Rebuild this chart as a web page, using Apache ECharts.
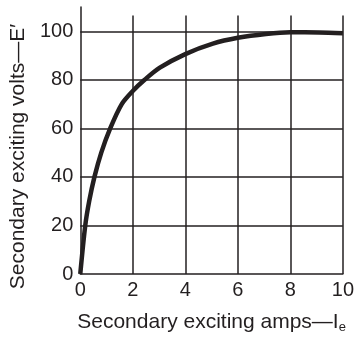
<!DOCTYPE html>
<html><head><meta charset="utf-8">
<script src="https://cdn.jsdelivr.net/npm/echarts@6/dist/echarts.min.js"></script>
<style>html,body{margin:0;padding:0;background:#fff}#c{width:357px;height:339px}</style>
</head><body><div id="c"></div>
<script>
// Data
const amps = [0, 0.19, 0.34, 0.54, 0.8, 1.14, 1.58, 2.0, 2.45, 3.03, 4.0, 5.05, 6.0, 7.07, 8.0, 9.09, 10.0];
const volts = [0, 20, 30, 40, 50, 60, 70, 75.4, 80, 85, 90.6, 94.9, 97.3, 98.9, 99.6, 99.5, 99.2];
const xTicks = [0, 2, 4, 6, 8, 10];
const yTicks = [0, 20, 40, 60, 80, 100];
const verticalGridTop = 106.5;

const ink = '#231f20';
const font = 'Liberation Sans, Arial, Helvetica, sans-serif';
const chart = echarts.init(document.getElementById('c'), null, {renderer: 'canvas'});
const vLines = xTicks.slice(1).map(x => [{coord: [x, 0]}, {coord: [x, verticalGridTop]}]);
chart.setOption({
  animation: false,
  backgroundColor: '#fff',
  grid: {left: 80, right: 13, top: 7, bottom: 55, containLabel: false},
  xAxis: {
    type: 'value', min: 0, max: 10, interval: 2,
    axisLine: {show: true, onZero: false, lineStyle: {color: ink, width: 1.5}},
    axisTick: {show: false},
    splitLine: {show: false},
    axisLabel: {color: ink, fontSize: 20, fontFamily: font, margin: 6,
      formatter: v => xTicks.includes(v) ? String(v) : ''},
    name: '{a|Secondary exciting amps—I}{s|e}',
    nameLocation: 'middle', nameGap: 37,
    nameTextStyle: {rich: {
      a: {color: ink, fontSize: 21, fontFamily: font},
      s: {color: ink, fontSize: 13, fontFamily: font, padding: [10, 0, 0, 0]}
    }}
  },
  yAxis: {
    type: 'value', min: 0, max: 110, interval: 20,
    axisLine: {show: true, onZero: false, lineStyle: {color: ink, width: 1.5}},
    axisTick: {show: false},
    splitLine: {show: true, showMaxLine: false, showMinLine: false, lineStyle: {color: ink, width: 1.5}},
    axisLabel: {color: ink, fontSize: 20, fontFamily: font, margin: 7, showMaxLabel: false,
      formatter: v => yTicks.includes(v) ? String(v) : ''},
    name: 'Secondary exciting volts—E′',
    nameLocation: 'middle', nameGap: 46, nameRotate: 90,
    nameTextStyle: {color: ink, fontSize: 21, fontFamily: font, padding: [0, 32, 0, 0]}
  },
  series: [{
    type: 'line',
    data: amps.map((x, i) => [x, volts[i]]),
    smooth: 0.3,
    showSymbol: false,
    lineStyle: {color: ink, width: 4.5},
    z: 5,
    markLine: {
      silent: true, symbol: 'none', animation: false,
      label: {show: false},
      lineStyle: {color: ink, width: 1.5, type: 'solid'},
      data: vLines
    }
  }]
});
</script></body></html>
